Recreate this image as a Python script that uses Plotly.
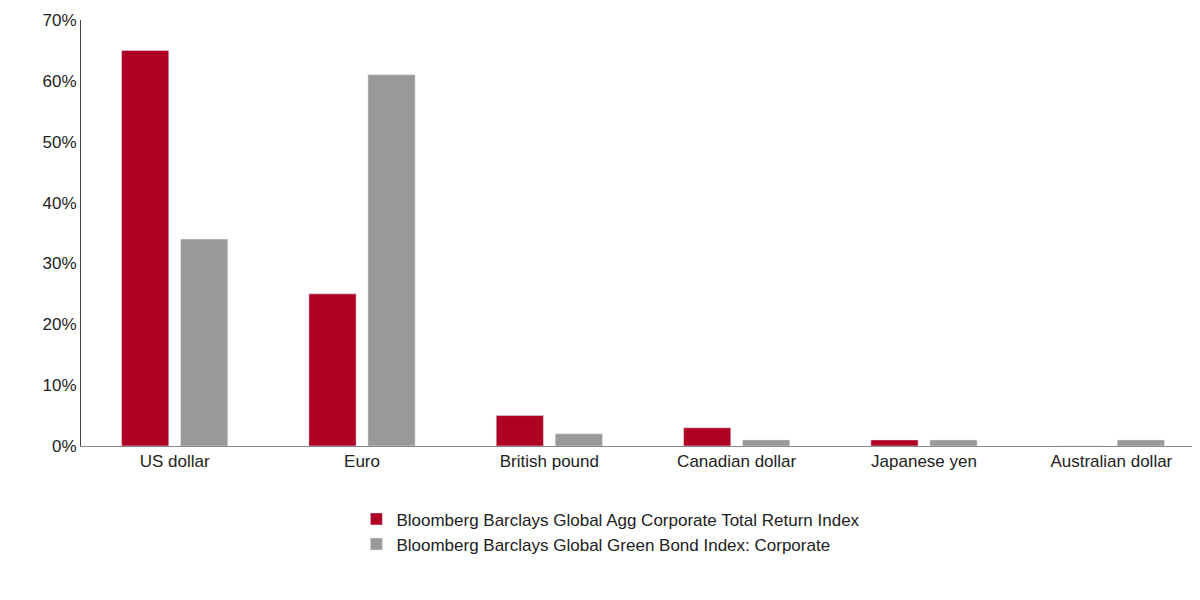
import plotly.graph_objects as go

categories = ["US dollar", "Euro", "British pound", "Canadian dollar", "Japanese yen", "Australian dollar"]
agg_corp = [65, 25, 5, 3, 1, 0]
green_corp = [34, 61, 2, 1, 1, 1]
series_names = ["Bloomberg Barclays Global Agg Corporate Total Return Index",
                "Bloomberg Barclays Global Green Bond Index: Corporate"]

fig = go.Figure()
fig.add_bar(x=categories, y=agg_corp, name=series_names[0], marker_color="#AF0024")
fig.add_bar(x=categories, y=green_corp, name=series_names[1], marker_color="#999999")
fig.update_layout(
    width=1200, height=600, barmode="group", bargap=0.37, bargroupgap=0.2,
    plot_bgcolor="white", paper_bgcolor="white",
    margin=dict(l=73, r=3, t=10, b=162),
    font=dict(family="Liberation Sans, Arial", size=17, color="#222"),
    legend=dict(orientation="v", x=0.245, xanchor="left", y=-0.13, yanchor="top",
                font=dict(size=17), itemwidth=30, tracegroupgap=2),
    xaxis=dict(showline=True, linecolor="#888", linewidth=1, ticks="", showgrid=False),
    yaxis=dict(range=[0, 70], dtick=10, ticksuffix="%", showgrid=False, zeroline=False,
               showline=True, linecolor="#444", linewidth=1),
)
fig.write_html("out.html")
